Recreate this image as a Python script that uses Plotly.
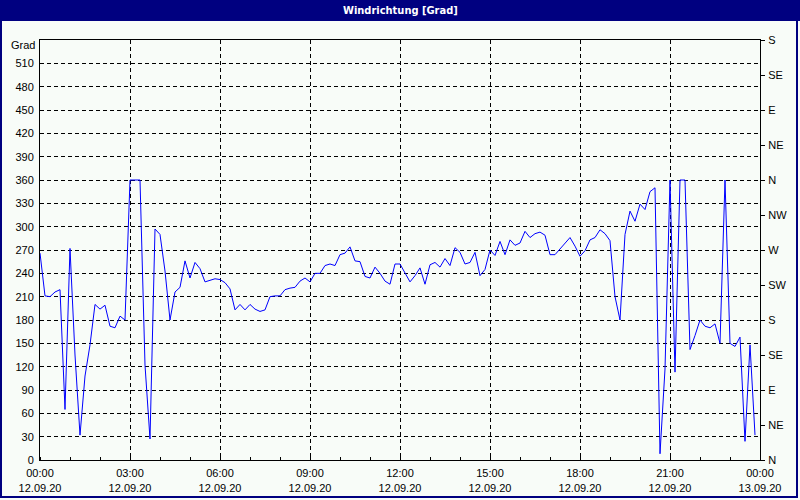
import pandas as pd
import plotly.graph_objects as go

# ---- data ----
start_time = "2020-09-12 00:00"
n_points = 144
wind_dir = [
    266, 211, 210, 216, 219, 65, 272, 135, 32, 108,
    148, 200, 194, 199, 172, 170, 185, 180, 360, 360,
    360, 122, 27, 297, 290, 243, 180, 216, 222, 256,
    234, 254, 246, 229, 231, 233, 232, 228, 220, 193,
    200, 193, 200, 194, 191, 193, 210, 211, 211,
    219, 221, 222, 230, 234, 229, 240, 240, 250, 252,
    250, 264, 266, 274, 256, 255, 236, 234, 248, 240,
    230, 226, 252, 252, 240, 229, 237, 247, 226, 251,
    254, 248, 259, 250, 273, 267, 252, 254, 267, 237,
    245, 270, 263, 281, 264, 283, 276, 279,
    294, 286, 291, 293, 289, 264, 264, 271, 278, 286,
    275, 262, 269, 283, 286, 296, 291, 282, 210, 180,
    290, 320, 307, 329, 322, 345, 350, 8, 117, 360,
    113, 360, 360, 142, 160, 180, 172, 170, 175, 150,
    360, 150, 146, 158, 24, 148, 32,
]
times = pd.date_range(start_time, periods=n_points, freq="10min")

x_tickvals = pd.date_range("2020-09-12 00:00", "2020-09-13 00:00", freq="3h")
x_ticktext = ["00:00<br>12.09.20", "03:00<br>12.09.20", "06:00<br>12.09.20",
              "09:00<br>12.09.20", "12:00<br>12.09.20", "15:00<br>12.09.20",
              "18:00<br>12.09.20", "21:00<br>12.09.20", "00:00<br>13.09.20"]
y_tickvals = list(range(0, 540, 30))
y_ticktext = [str(v) for v in y_tickvals]
compass_vals = list(range(0, 541, 45))
compass_text = ["N", "NE", "E", "SE", "S", "SW", "W", "NW", "N", "NE", "E", "SE", "S"]
title_text = "Windrichtung [Grad]"
unit_text = "Grad"

# ---- figure ----
W, H = 800, 500
L, R, T, B = 40, 40, 40, 40
PW, PH = W - L - R, H - T - B


def px_x(px):
    return (px - L) / PW


def px_y(py):
    return (H - B - py) / PH


navy = "#000080"
bg = "#F8FCF8"
font_fam = "Liberation Sans, Arial, sans-serif"
grid_dash = "4px,3px"

fig = go.Figure()
fig.add_trace(go.Scatter(x=times, y=wind_dir, mode="lines",
                         line=dict(color="#0000FF", width=1),
                         showlegend=False, hoverinfo="skip"))
fig.add_trace(go.Scatter(x=[times[0]], y=[0], yaxis="y2", mode="lines",
                         line=dict(width=0), opacity=0,
                         showlegend=False, hoverinfo="skip"))

fig.update_layout(
    width=W, height=H,
    margin=dict(l=L, r=R, t=T, b=B, pad=0, autoexpand=False),
    paper_bgcolor=bg, plot_bgcolor=bg,
    font=dict(family=font_fam, size=11, color="black"),
    showlegend=False,
    xaxis=dict(
        type="date", automargin=False,
        range=["2020-09-12 00:00", "2020-09-13 00:00"],
        tickmode="array", tickvals=x_tickvals, ticktext=x_ticktext,
        showgrid=True, gridcolor="black", griddash=grid_dash, gridwidth=1,
        showline=True, linecolor="black", linewidth=1, mirror=True,
        ticks="", zeroline=False, ticklabelstandoff=3,
        minor=dict(tickmode="linear", tick0="2020-09-12 00:00", dtick=3600000,
                   ticks="inside", ticklen=3, tickcolor="black", showgrid=False),
    ),
    yaxis=dict(
        range=[0, 540], automargin=False,
        tickmode="array", tickvals=y_tickvals, ticktext=y_ticktext,
        showgrid=True, gridcolor="black", griddash=grid_dash, gridwidth=1,
        showline=True, linecolor="black", linewidth=1, mirror=True,
        ticks="", zeroline=False, ticklabelstandoff=3,
    ),
    yaxis2=dict(
        range=[0, 540], overlaying="y", side="right", automargin=False,
        tickmode="array", tickvals=compass_vals, ticktext=compass_text,
        showgrid=False, zeroline=False, showline=False,
        ticks="outside", ticklen=4, tickcolor="black", ticklabelstandoff=1,
    ),
    shapes=[
        dict(type="rect", xref="paper", yref="paper",
             x0=px_x(0), x1=px_x(W), y0=px_y(21), y1=px_y(0),
             fillcolor=navy, line=dict(width=0), layer="above"),
        dict(type="rect", xref="paper", yref="paper",
             x0=px_x(1), x1=px_x(797), y0=px_y(497), y1=px_y(1),
             fillcolor="rgba(0,0,0,0)", line=dict(color=navy, width=2), layer="above"),
    ],
    annotations=[
        dict(text="<b>" + title_text + "</b>", xref="paper", yref="paper",
             x=px_x(400), y=px_y(10), xanchor="center", yanchor="middle",
             showarrow=False, font=dict(color="white", size=11,
                                        family="Liberation Sans Narrow, DejaVu Sans Condensed, Arial Narrow, sans-serif")),
        dict(text=unit_text, xref="paper", yref="paper",
             x=px_x(37), y=px_y(45), xanchor="right", yanchor="middle",
             showarrow=False, font=dict(color="black", size=11)),
    ],
)

fig.write_html("out.html",
               config={"displayModeBar": False},
               post_script="document.body.style.margin='0';document.body.style.overflow='hidden';")
